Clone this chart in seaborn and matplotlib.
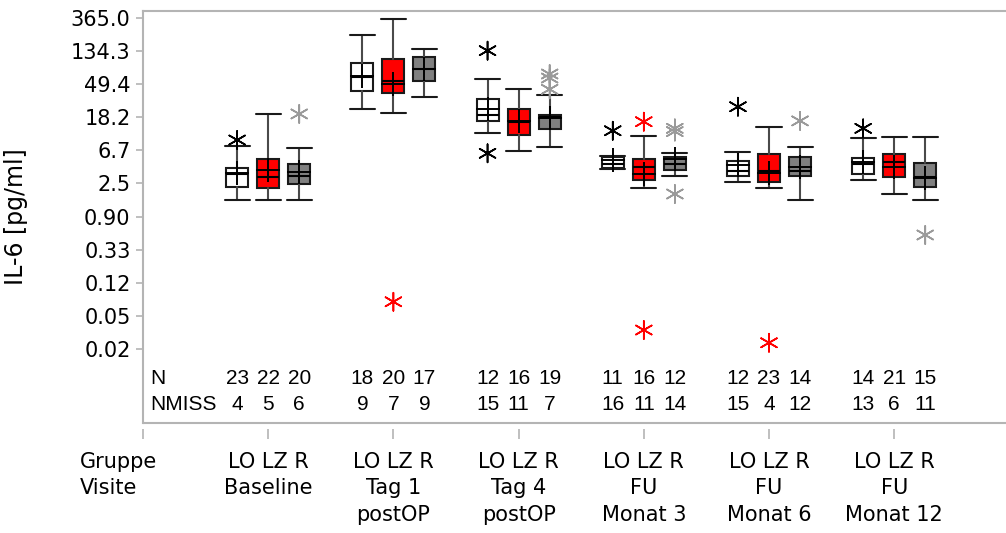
import numpy as np
import pandas as pd
import matplotlib
matplotlib.use("Agg")
import matplotlib.pyplot as plt
from matplotlib.transforms import blended_transform_factory
import seaborn as sns

# ---- data -------------------------------------------------------------
visits = ["Baseline", "Tag 1\npostOP", "Tag 4\npostOP",
          "FU\nMonat 3", "FU\nMonat 6", "FU\nMonat 12"]
groups = ["LO", "LZ", "R"]

# box statistics of IL-6 [pg/ml], rows = visits, columns = LO, LZ, R
whis_lo = [[1.49, 1.49, 1.49], [23.6, 20.9, 33.9], [11.4, 6.62, 7.48],
           [3.83, 2.13, 3.09], [2.55, 2.13, 1.48], [2.71, 1.78, 1.48]]
q1 = [[2.23, 2.13, 2.40], [40.6, 38.2, 54.9], [16.4, 10.7, 12.9],
      [3.89, 2.73, 3.70], [3.09, 2.55, 3.09], [3.25, 3.02, 2.23]]
median = [[3.28, 3.02, 3.09], [62.0, 54.9, 78.9], [19.7, 15.6, 18.2],
          [4.43, 4.09, 4.43], [3.59, 3.59, 3.59], [4.39, 4.75, 3.02]]
q3 = [[3.89, 5.20, 4.39], [94.6, 105.8, 112.4], [31.9, 23.6, 19.5],
      [5.47, 5.16, 5.53], [4.90, 5.94, 5.53], [5.27, 5.94, 4.61]]
whis_hi = [[7.64, 19.9, 7.12], [220.0, 354.0, 143.0], [57.8, 43.1, 36.0],
           [5.56, 10.3, 6.12], [6.31, 13.7, 7.48], [9.64, 10.1, 10.1]]
mean = [[3.38, 3.70, 3.45], [63.3, 49.3, 77.5], [23.4, 16.4, 17.6],
        [5.00, 3.28, 5.11], [4.30, 3.41, 4.09], [4.75, 4.09, 2.88]]

# outliers (visit index, group, value)
out_visit = [0, 0, 1, 2, 2, 2, 2, 2, 3, 3, 3, 3, 3, 3, 4, 4, 4, 5, 5]
out_group = ["LO", "R", "LZ", "LO", "LO", "R", "R", "R",
             "LO", "LZ", "LZ", "R", "R", "R", "LO", "LZ", "R", "LO", "R"]
out_value = [9.15, 20.1, 0.069, 136.0, 6.12, 67.2, 59.5, 42.3,
             12.1, 15.9, 0.0294, 13.0, 11.8, 1.79, 25.0, 0.020, 16.3, 13.0, 0.519]

n_obs = [[23, 22, 20], [18, 20, 17], [12, 16, 19],
         [11, 16, 12], [12, 23, 14], [14, 21, 15]]
n_miss = [[4, 5, 6], [9, 7, 9], [15, 11, 7],
          [16, 11, 14], [15, 4, 12], [13, 6, 11]]

ytick_labels = ["365.0", "134.3", "49.4", "18.2", "6.7", "2.5",
                "0.90", "0.33", "0.12", "0.05", "0.02"]

# ---- style ------------------------------------------------------------
sns.set_style("white")
plt.rcParams["font.family"] = ["Liberation Sans", "DejaVu Sans"]
plt.rcParams["text.color"] = "black"
plt.rcParams["axes.labelcolor"] = "black"
plt.rcParams["xtick.labelcolor"] = "black"
plt.rcParams["ytick.labelcolor"] = "black"
FS = 15
WIDE = "DejaVu Sans"

box_fill = {"LO": "#ffffff", "LZ": "#ff0000", "R": "#808080"}
star_col = {"LO": "#000000", "LZ": "#ff0000", "R": "#9a9a9a"}
offset = {"LO": -0.248, "LZ": 0.0, "R": 0.248}
axis_grey = "#b4b4b4"

fig = plt.figure(figsize=(10.06, 5.33), dpi=100)
ax = fig.add_axes([143 / 1006, 110 / 533, 863 / 1006, 412 / 533])

# ---- boxes ------------------------------------------------------------
for vi in range(len(visits)):
    for gi, g in enumerate(groups):
        st = dict(whislo=whis_lo[vi][gi], q1=q1[vi][gi], med=median[vi][gi],
                  q3=q3[vi][gi], whishi=whis_hi[vi][gi], fliers=[])
        ax.bxp([st], positions=[vi + 1 + offset[g]], widths=0.176,
               patch_artist=True, showfliers=False, manage_ticks=False,
               boxprops=dict(facecolor=box_fill[g], edgecolor="#1a1a1a", linewidth=1.5),
               medianprops=dict(color="#000000", linewidth=1.5),
               whiskerprops=dict(color="#4a4a4a", linewidth=1.5),
               capprops=dict(color="#1a1a1a", linewidth=1.5),
               capwidths=0.2, zorder=2)

# means as plus signs
mean_df = pd.DataFrame([
    {"x": vi + 1 + offset[g], "value": mean[vi][gi]}
    for vi in range(len(visits)) for gi, g in enumerate(groups)
])
sns.scatterplot(data=mean_df, x="x", y="value", marker="+", s=300,
                color="#000000", linewidth=1.4, legend=False, ax=ax, zorder=4)

# outliers as asterisks
out_df = pd.DataFrame({"visit": out_visit, "group": out_group, "value": out_value})
out_df["x"] = out_df["visit"] + 1 + out_df["group"].map(offset)
sns.scatterplot(data=out_df, x="x", y="value", hue="group", palette=star_col,
                marker=(6, 2, 0), s=170, linewidth=1.2, legend=False, ax=ax, zorder=4)

# ---- axes -------------------------------------------------------------
ax.set_yscale("log")
ax.set_ylim(np.exp(-6.336), np.exp(6.111))
ax.set_xlim(0, 6.893)
yt = np.exp(5.9 - np.arange(len(ytick_labels)))
ax.set_yticks(yt)
ax.set_yticklabels(ytick_labels, fontsize=FS, family=WIDE, color="black")
ax.yaxis.set_minor_locator(matplotlib.ticker.NullLocator())
ax.set_xticks(range(0, 7))
ax.set_xticklabels([])
ax.set_xlabel("")
ax.set_ylabel("IL-6 [pg/ml]", fontsize=17, family=WIDE, color="black")
ax.yaxis.set_label_coords(-0.133, 0.5)

ax.tick_params(axis="y", direction="out", length=5, width=1.2, color=axis_grey, pad=4, left=True)
ax.tick_params(axis="x", direction="out", length=7, width=1.2, color=axis_grey, bottom=True)
for s in ["left", "top"]:
    ax.spines[s].set_color(axis_grey)
    ax.spines[s].set_linewidth(1.5)
ax.spines["right"].set_visible(False)
ax.spines["bottom"].set_position(("outward", 4))
ax.spines["bottom"].set_visible(False)
ax.plot([0, 1], [0, 0], transform=ax.transAxes, color=axis_grey,
        linewidth=1.5, clip_on=False, zorder=5)

# ---- N / NMISS rows ---------------------------------------------------
tr = blended_transform_factory(ax.transData, ax.transAxes)
ax.text(0.056, 0.107, "N", transform=tr, ha="left", va="center", fontsize=FS)
ax.text(0.056, 0.046, "NMISS", transform=tr, ha="left", va="center", fontsize=FS)
for vi in range(len(visits)):
    for gi, g in enumerate(groups):
        x = vi + 1 + offset[g]
        ax.text(x, 0.107, str(n_obs[vi][gi]), transform=tr, ha="center", va="center", fontsize=FS)
        ax.text(x, 0.046, str(n_miss[vi][gi]), transform=tr, ha="center", va="center", fontsize=FS)

# ---- category labels below the axis ----------------------------------
row_y = [-0.0947, -0.158, -0.223]
ax.text(-0.503, row_y[0], "Gruppe", transform=tr, ha="left", va="center",
        fontsize=FS, family=WIDE)
ax.text(-0.503, row_y[1], "Visite", transform=tr, ha="left", va="center",
        fontsize=FS, family=WIDE)
for vi, v in enumerate(visits):
    ax.text(vi + 1, row_y[0], " ".join(groups), transform=tr, ha="center", va="center",
            fontsize=FS, family=WIDE)
    for li, line in enumerate(v.split("\n")):
        ax.text(vi + 1, row_y[1 + li], line, transform=tr, ha="center", va="center",
                fontsize=FS, family=WIDE)

fig.savefig("out.png", dpi=100)
